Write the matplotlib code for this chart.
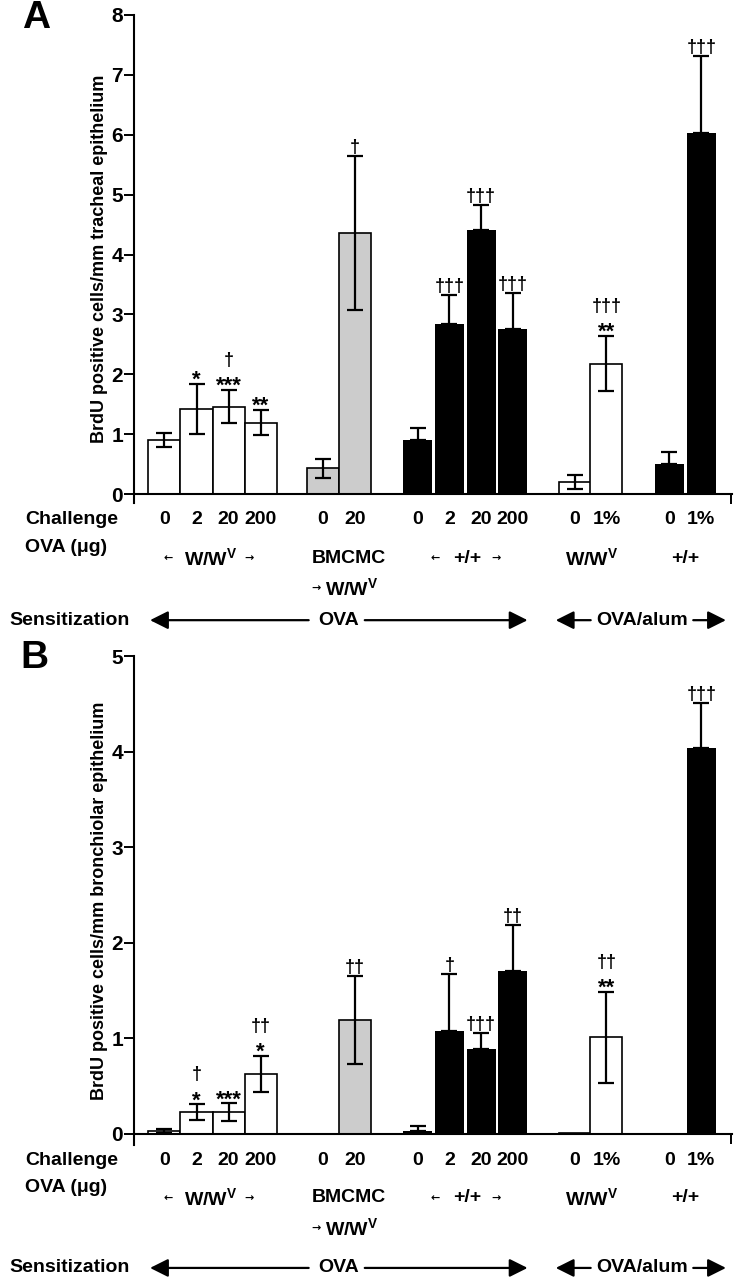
import numpy as np
import matplotlib
matplotlib.use('Agg')
import matplotlib.pyplot as plt

plt.rcParams['font.family'] = ['Liberation Sans', 'DejaVu Sans']
plt.rcParams['font.weight'] = 'bold'
plt.rcParams['mathtext.fontset'] = 'custom'
plt.rcParams['mathtext.rm'] = 'Liberation Sans:bold'
plt.rcParams['mathtext.bf'] = 'Liberation Sans:bold'
plt.rcParams['mathtext.it'] = 'Liberation Sans:bold'

# bar order: W/Wv 0,2,20,200 | BMCMC->W/Wv 0,20 | +/+ 0,2,20,200 | W/Wv 0,1% | +/+ 0,1%
challenge = ['0', '2', '20', '200', '0', '20', '0', '2', '20', '200', '0', '1%', '0', '1%']
fills = ['white'] * 4 + ['#cccccc'] * 2 + ['black'] * 4 + ['white'] * 2 + ['black'] * 2

trachea_mean = [0.90, 1.42, 1.46, 1.19, 0.43, 4.36, 0.90, 2.84, 4.41, 2.75, 0.20, 2.18, 0.50, 6.03]
trachea_sem = [0.12, 0.42, 0.28, 0.21, 0.16, 1.29, 0.20, 0.48, 0.41, 0.61, 0.11, 0.46, 0.20, 1.28]
trachea_stars = ['', '*', '***', '**', '', '', '', '', '', '', '', '**', '', '']
trachea_dag = ['', '', '†', '', '', '†', '', '†††', '†††', '†††', '', '†††', '', '†††']

bronch_mean = [0.03, 0.23, 0.23, 0.63, 0.0, 1.19, 0.03, 1.08, 0.885, 1.70, 0.005, 1.01, 0.005, 4.04]
bronch_sem = [0.02, 0.08, 0.09, 0.19, 0.0, 0.46, 0.05, 0.59, 0.175, 0.49, 0.0, 0.48, 0.0, 0.47]
bronch_stars = ['', '*', '***', '*', '', '', '', '', '', '', '', '**', '', '']
bronch_dag = ['', '†', '', '††', '', '††', '', '†', '†††', '††', '', '††', '', '†††']

pos = [0.95, 1.95, 2.95, 3.95, 5.9, 6.9, 8.85, 9.84, 10.83, 11.82, 13.75, 14.74, 16.7, 17.7]
XMAX = 18.66
PT = 0.72  # points per pixel at dpi 100


def draw_panel(ax, means, sems, stars, dags, ymax, ymin, ylabel, rows):
    for x, m, e, c in zip(pos, means, sems, fills):
        if c == 'black':
            ax.bar(x, m, width=0.9, color='black', zorder=2)
            if e > 0:
                ax.errorbar(x, m, yerr=[[0], [e]], fmt='none', ecolor='black',
                            elinewidth=1.6, capsize=5.5, capthick=1.6, zorder=3)
        else:
            ax.bar(x, m, width=1.0, color=c, edgecolor='black', linewidth=1.2, zorder=2)
            if e > 0:
                ax.errorbar(x, m, yerr=e, fmt='none', ecolor='black',
                            elinewidth=1.6, capsize=5.5, capthick=1.6, zorder=3)

    # significance marks
    for x, m, e, s, d in zip(pos, means, sems, stars, dags):
        top = m + e
        if s:
            ax.annotate(s, (x, top), xytext=(0, -2 * PT), textcoords='offset points',
                        ha='center', va='baseline', fontsize=16, fontweight='bold')
        if d:
            off = 25 if s else 4
            ax.annotate(d, (x, top), xytext=(0, off * PT), textcoords='offset points',
                        ha='center', va='baseline', fontsize=13, fontweight='bold')

    ax.set_xlim(0, XMAX)
    ax.set_ylim(ymin, ymax)
    ax.spines['top'].set_visible(False)
    ax.spines['right'].set_visible(False)
    ax.spines['bottom'].set_position(('data', 0))
    for sp in ['left', 'bottom']:
        ax.spines[sp].set_linewidth(1.5)
    ax.set_yticks(range(0, ymax + 1))
    ax.set_yticklabels([str(v) for v in range(0, ymax + 1)], fontsize=15, fontweight='bold')
    ax.tick_params(axis='y', length=7, width=1.4, pad=1)
    ax.set_xticks([XMAX - 0.02])
    ax.set_xticklabels([''])
    ax.tick_params(axis='x', length=7, width=1.4, direction='out')
    ax.text(-0.057, 0.5, ylabel, transform=ax.transAxes, rotation=90,
            ha='center', va='center', fontsize=13, fontweight='bold')

    tr = ax.get_xaxis_transform()
    y_ch, y_ova, y_gen, y_gen2, y_sens = rows
    kw = dict(transform=tr, fontsize=14, fontweight='bold', va='center', clip_on=False)
    ax.text(-3.4, y_ch, 'Challenge', ha='left', **kw)
    ax.text(-3.4, y_ova, 'OVA (μg)', ha='left', **kw)
    for x, lab in zip(pos, challenge):
        ax.text(x, y_ch, lab, ha='center', **kw)

    wwv = r'W/W$^{\mathbf{V}}$'
    small = dict(transform=tr, fontsize=8, fontweight='bold', va='center', ha='center',
                 family='DejaVu Sans')
    ax.text(2.4, y_gen, wwv, ha='center', **kw)
    ax.text(1.08, y_gen, '←', **small)
    ax.text(3.6, y_gen, '→', **small)
    ax.text(5.55, y_gen, 'BMCMC', ha='left', **kw)
    ax.text(5.68, y_gen2, '→', **small)
    ax.text(5.95, y_gen2, wwv, ha='left', **kw)
    ax.text(10.4, y_gen, '+/+', ha='center', **kw)
    ax.text(9.4, y_gen, '←', **small)
    ax.text(11.3, y_gen, '→', **small)
    ax.text(14.28, y_gen, wwv, ha='center', **kw)
    ax.text(17.2, y_gen, '+/+', ha='center', **kw)

    ax.text(-3.9, y_sens, 'Sensitization', ha='left', **kw)
    ax.text(6.38, y_sens, 'OVA', ha='center', **kw)
    ax.text(15.84, y_sens, 'OVA/alum', ha='center', **kw)
    arr = dict(arrowstyle='-|>,head_length=1.1,head_width=0.55', mutation_scale=10,
               lw=1.6, color='black', shrinkA=0, shrinkB=0)
    for x0, x1 in [(5.45, 0.5), (7.2, 12.28), (14.25, 13.16), (17.45, 18.47)]:
        ax.annotate('', xy=(x1, y_sens), xytext=(x0, y_sens), xycoords=tr,
                    textcoords=tr, arrowprops=arr, annotation_clip=False)


fig = plt.figure(figsize=(7.38, 12.8), dpi=100)
axA = fig.add_axes([0.1816, 0.6070, 0.8103, 0.3813])
axB = fig.add_axes([0.1816, 0.1055, 0.8103, 0.3820])

draw_panel(axA, trachea_mean, trachea_sem, trachea_stars, trachea_dag, 8, -0.15,
           'BrdU positive cells/mm tracheal epithelium',
           (-0.033, -0.092, -0.113, -0.174, -0.240))
draw_panel(axB, bronch_mean, bronch_sem, bronch_stars, bronch_dag, 5, -0.115,
           'BrdU positive cells/mm bronchiolar epithelium',
           (-0.031, -0.088, -0.108, -0.170, -0.2515))

fig.text(22 / 738, 1 - 18 / 1280, 'A', fontsize=28, fontweight='bold', va='center', ha='left')
fig.text(20 / 738, 1 - 658 / 1280, 'B', fontsize=28, fontweight='bold', va='center', ha='left')

fig.savefig('out.png', dpi=100)
